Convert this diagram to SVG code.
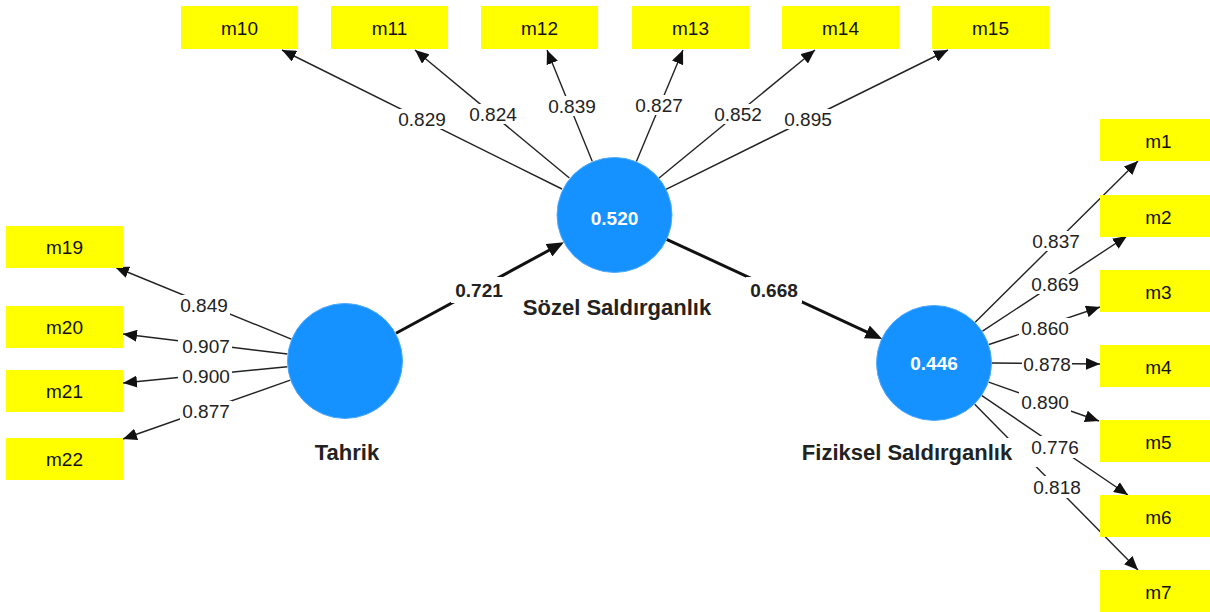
<svg xmlns="http://www.w3.org/2000/svg" width="1210" height="612" viewBox="0 0 1210 612">
  <style>
    .ind { fill: #ffff00; }
    .ind-t { font-family: "Liberation Sans", Arial, sans-serif; font-size: 19px; fill: #111; text-anchor: middle; }
    .lv { fill: #1592ff; stroke: #4eaaff; stroke-width: 1; }
    .lv-v { font-family: "Liberation Sans", Arial, sans-serif; font-size: 19px; font-weight: bold; fill: #ffffff; text-anchor: middle; }
    .lv-n { font-family: "Liberation Sans", Arial, sans-serif; font-size: 22px; font-weight: bold; fill: #222; text-anchor: middle; }
    .load { stroke: #222; stroke-width: 1.4; fill: none; marker-end: url(#ah); }
    .path { stroke: #111; stroke-width: 3; fill: none; marker-end: url(#ahb); }
    .bg { fill: #ffffff; }
    .lbl { font-family: "Liberation Sans", Arial, sans-serif; font-size: 19px; fill: #222; text-anchor: middle; }
    .plbl { font-family: "Liberation Sans", Arial, sans-serif; font-size: 19px; font-weight: bold; fill: #222; text-anchor: middle; }
  </style>
  <defs>
    <marker id="ah" markerUnits="userSpaceOnUse" markerWidth="14" markerHeight="12" refX="14" refY="6" orient="auto">
      <path d="M0,0 L14,6 L0,12 z" fill="#111"/>
    </marker>
    <marker id="ahb" markerUnits="userSpaceOnUse" markerWidth="17" markerHeight="14" refX="8" refY="7" orient="auto">
      <path d="M0,0 L17,7 L0,14 z" fill="#111"/>
    </marker>
  </defs>
  <rect width="1210" height="612" fill="#ffffff"/>

  <!-- connectors: loadings and path coefficients -->
  <g id="connectors">
    <!-- Sözel Saldırganlık -> m10..m15 -->
    <line class="load" x1="562" y1="189" x2="282" y2="50"/>
    <line class="load" x1="569.4" y1="178" x2="415" y2="50"/>
    <line class="load" x1="592.2" y1="161.3" x2="547" y2="50"/>
    <line class="load" x1="636.4" y1="161.5" x2="683" y2="50"/>
    <line class="load" x1="658.8" y1="178.2" x2="815" y2="50"/>
    <line class="load" x1="666" y1="189.3" x2="948" y2="50"/>
    <!-- Tahrik -> m19..m22 -->
    <line class="load" x1="291.3" y1="339.1" x2="115" y2="267"/>
    <line class="load" x1="287.4" y1="354" x2="123" y2="334"/>
    <line class="load" x1="287.3" y1="366.7" x2="123" y2="383"/>
    <line class="load" x1="290.3" y1="380.2" x2="123" y2="439"/>
    <!-- Fiziksel Saldırganlık -> m1..m7 -->
    <line class="load" x1="975.2" y1="322.2" x2="1138" y2="161"/>
    <line class="load" x1="982.5" y1="331.1" x2="1127" y2="236"/>
    <line class="load" x1="989" y1="344.5" x2="1100" y2="307"/>
    <line class="load" x1="992" y1="363" x2="1100" y2="364"/>
    <line class="load" x1="988.7" y1="382.2" x2="1099" y2="421"/>
    <line class="load" x1="981.9" y1="395.6" x2="1128" y2="495"/>
    <line class="load" x1="974.7" y1="404.3" x2="1138" y2="570"/>
    <!-- structural paths -->
    <line class="path" x1="396" y1="333.3" x2="556" y2="246.5"/>
    <line class="path" x1="666.6" y1="239.3" x2="874.1" y2="335.3"/>

    <!-- label backing for the Fiziksel Saldırganlık caption -->
    <rect class="bg" x="800" y="438" width="238" height="29"/>

    <!-- loading labels -->
    <g id="labels">
      <rect class="bg" x="396" y="109" width="52" height="20"/><text class="lbl" x="422" y="126">0.829</text>
      <rect class="bg" x="467" y="104" width="52" height="20"/><text class="lbl" x="493" y="121">0.824</text>
      <rect class="bg" x="546" y="96" width="52" height="20"/><text class="lbl" x="572" y="113">0.839</text>
      <rect class="bg" x="633" y="95" width="52" height="20"/><text class="lbl" x="659" y="112">0.827</text>
      <rect class="bg" x="712" y="104" width="52" height="20"/><text class="lbl" x="738" y="121">0.852</text>
      <rect class="bg" x="782" y="109" width="52" height="20"/><text class="lbl" x="808" y="126">0.895</text>

      <rect class="bg" x="178" y="295" width="52" height="20"/><text class="lbl" x="204" y="312">0.849</text>
      <rect class="bg" x="178" y="336" width="54" height="20"/><text class="lbl" x="206" y="353">0.907</text>
      <rect class="bg" x="178" y="366" width="54" height="20"/><text class="lbl" x="206" y="383">0.900</text>
      <rect class="bg" x="180" y="401" width="52" height="20"/><text class="lbl" x="206" y="418">0.877</text>

      <rect class="bg" x="1030" y="231" width="52" height="20"/><text class="lbl" x="1056" y="248">0.837</text>
      <rect class="bg" x="1029" y="274" width="52" height="20"/><text class="lbl" x="1055" y="291">0.869</text>
      <rect class="bg" x="1019" y="318" width="52" height="20"/><text class="lbl" x="1045" y="335">0.860</text>
      <rect class="bg" x="1022" y="354" width="50" height="20"/><text class="lbl" x="1047" y="371">0.878</text>
      <rect class="bg" x="1019" y="392" width="52" height="20"/><text class="lbl" x="1045" y="409">0.890</text>
      <rect class="bg" x="1029" y="436" width="52" height="22"/><text class="lbl" x="1055" y="454">0.776</text>
      <rect class="bg" x="1031" y="476" width="52" height="22"/><text class="lbl" x="1057" y="494">0.818</text>

      <!-- path coefficient labels -->
      <rect class="bg" x="451" y="277" width="56" height="26"/><text class="plbl" x="479" y="297">0.721</text>
      <rect class="bg" x="746" y="277" width="56" height="26"/><text class="plbl" x="774" y="297">0.668</text>
    </g>
  </g>

  <!-- indicators -->
  <g id="m10"><rect class="ind" x="181" y="6" width="117" height="43"/><text class="ind-t" x="239.5" y="35">m10</text></g>
  <g id="m11"><rect class="ind" x="331" y="6" width="117" height="43"/><text class="ind-t" x="389.5" y="35">m11</text></g>
  <g id="m12"><rect class="ind" x="481" y="6" width="117" height="43"/><text class="ind-t" x="539.5" y="35">m12</text></g>
  <g id="m13"><rect class="ind" x="632" y="6" width="117" height="43"/><text class="ind-t" x="690.5" y="35">m13</text></g>
  <g id="m14"><rect class="ind" x="782" y="6" width="117" height="43"/><text class="ind-t" x="840.5" y="35">m14</text></g>
  <g id="m15"><rect class="ind" x="932" y="6" width="117" height="43"/><text class="ind-t" x="990.5" y="35">m15</text></g>

  <g id="m19"><rect class="ind" x="6" y="226" width="117" height="42"/><text class="ind-t" x="64.5" y="254">m19</text></g>
  <g id="m20"><rect class="ind" x="6" y="306" width="117" height="42"/><text class="ind-t" x="64.5" y="334">m20</text></g>
  <g id="m21"><rect class="ind" x="6" y="370" width="117" height="42"/><text class="ind-t" x="64.5" y="398">m21</text></g>
  <g id="m22"><rect class="ind" x="6" y="438" width="117" height="42"/><text class="ind-t" x="64.5" y="466">m22</text></g>

  <g id="m1"><rect class="ind" x="1100" y="119" width="117" height="42"/><text class="ind-t" x="1158.5" y="148">m1</text></g>
  <g id="m2"><rect class="ind" x="1100" y="195" width="117" height="42"/><text class="ind-t" x="1158.5" y="224">m2</text></g>
  <g id="m3"><rect class="ind" x="1100" y="270" width="117" height="42"/><text class="ind-t" x="1158.5" y="299">m3</text></g>
  <g id="m4"><rect class="ind" x="1100" y="345" width="117" height="42"/><text class="ind-t" x="1158.5" y="374">m4</text></g>
  <g id="m5"><rect class="ind" x="1100" y="420" width="117" height="42"/><text class="ind-t" x="1158.5" y="449">m5</text></g>
  <g id="m6"><rect class="ind" x="1100" y="495" width="117" height="42"/><text class="ind-t" x="1158.5" y="524">m6</text></g>
  <g id="m7"><rect class="ind" x="1100" y="570" width="117" height="42"/><text class="ind-t" x="1158.5" y="599">m7</text></g>

  <!-- latent variables -->
  <g id="tahrik">
    <circle class="lv" cx="345" cy="361" r="57.5"/>
    <text class="lv-n" x="347" y="460">Tahrik</text>
  </g>
  <g id="sozel-saldirganlik">
    <circle class="lv" cx="614.5" cy="215" r="57.5"/>
    <text class="lv-v" x="614.5" y="225">0.520</text>
    <text class="lv-n" x="617" y="315">Sözel Saldırganlık</text>
  </g>
  <g id="fiziksel-saldirganlik">
    <circle class="lv" cx="934" cy="363" r="57.5"/>
    <text class="lv-v" x="934" y="370">0.446</text>
    <text class="lv-n" x="907" y="460">Fiziksel Saldırganlık</text>
  </g>
</svg>
